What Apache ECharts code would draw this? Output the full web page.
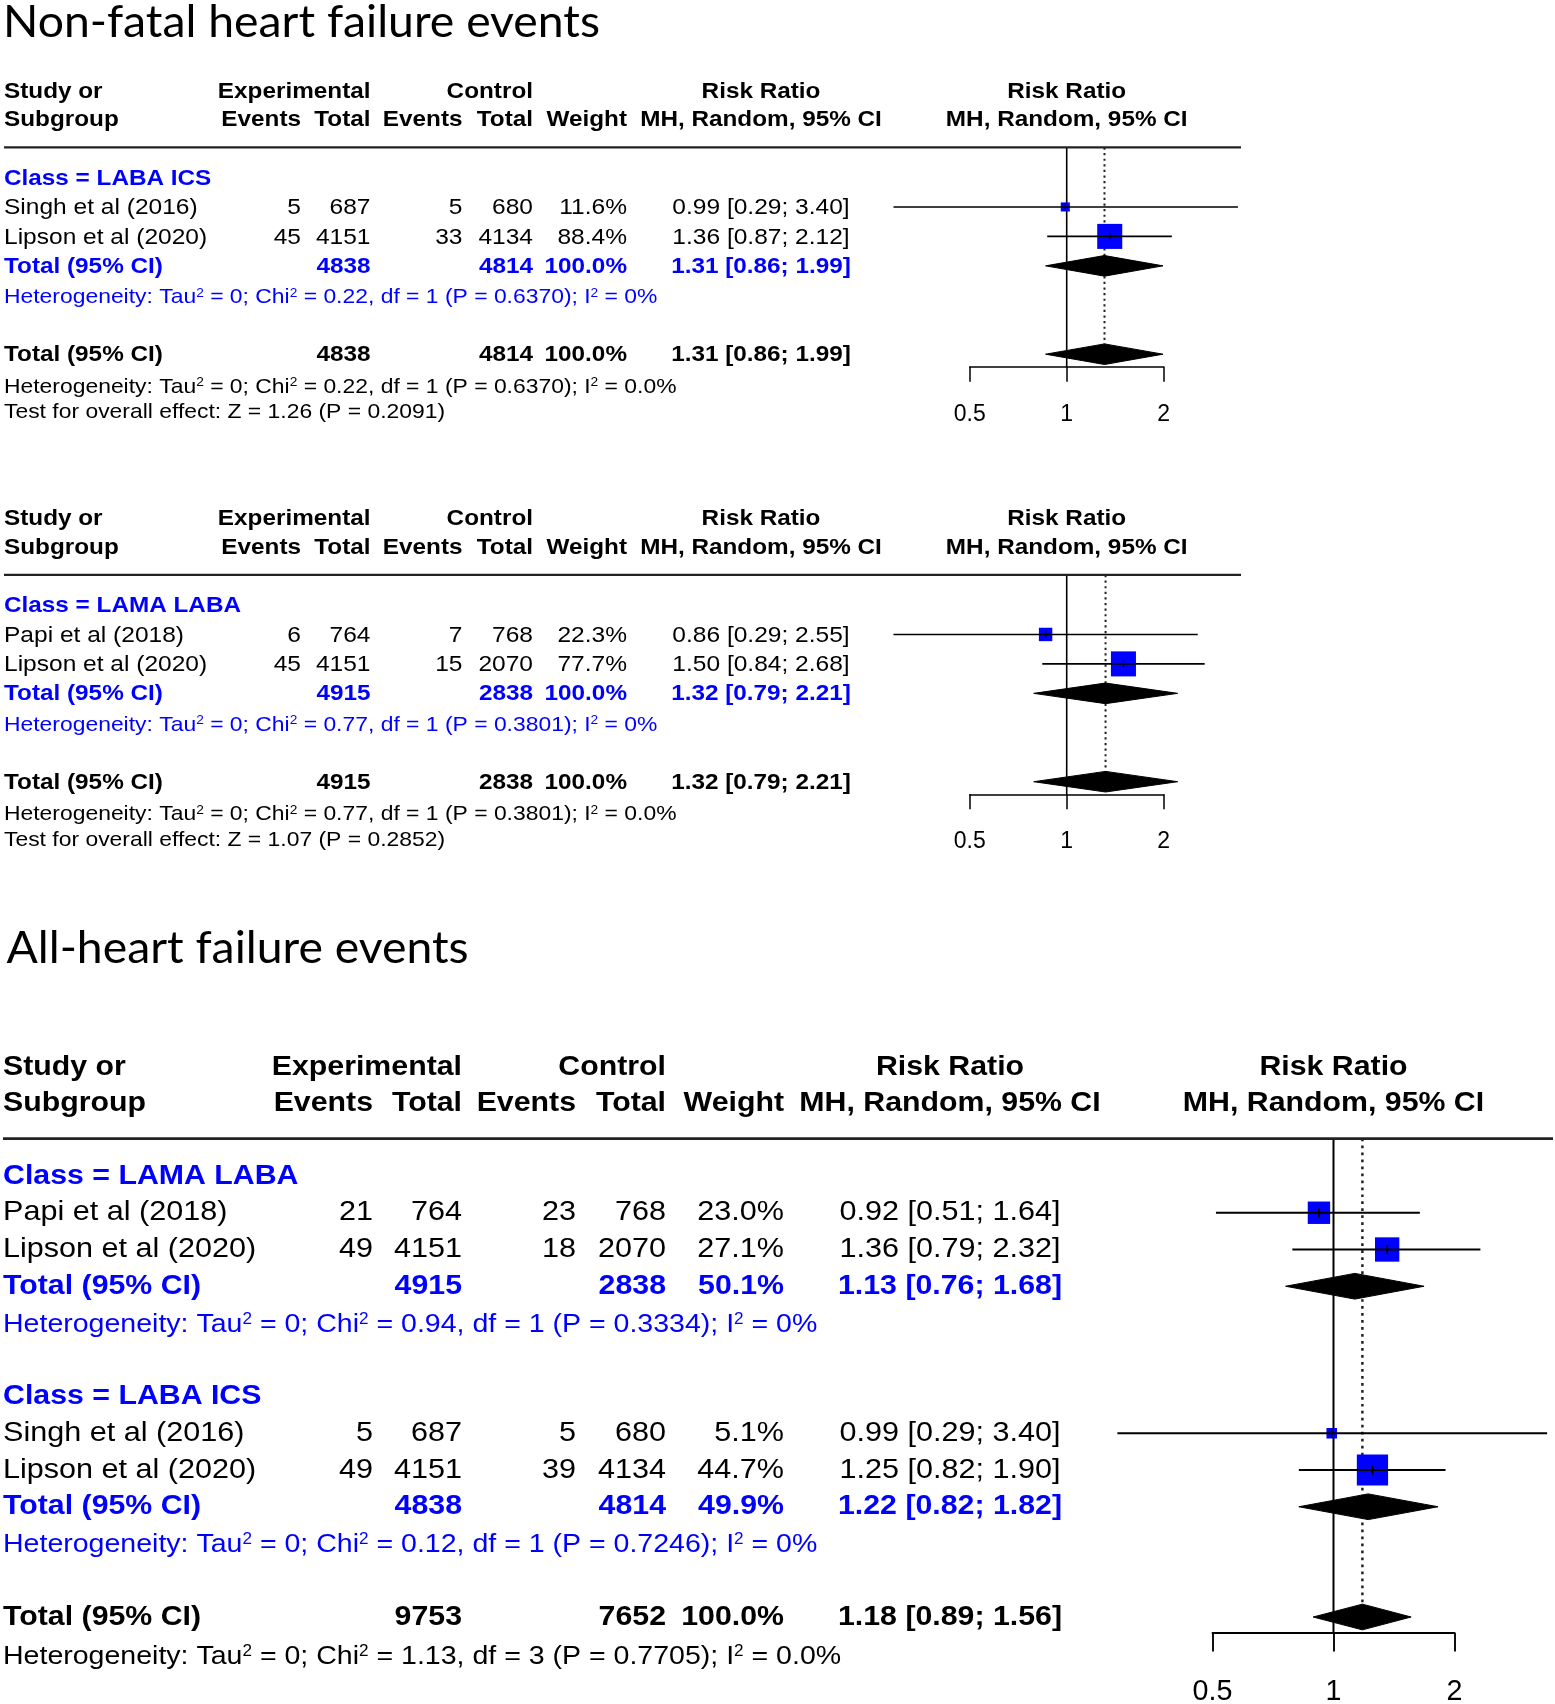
<!DOCTYPE html>
<html><head><meta charset="utf-8">
<script src="https://cdn.jsdelivr.net/npm/echarts@6/dist/echarts.min.js"></script>
<style>html,body{margin:0;padding:0;background:#fff}#main{width:1555px;height:1704px}</style>
</head><body><div id="main"></div>
<script>
// ================= DATA =================
const titles = ['Non-fatal heart failure events', 'All-heart failure events'];
const axisTicks = [0.5, 1, 2];

// --- Non-fatal HF, Class = LABA ICS ---
const nfIcsLabel   = 'Class = LABA ICS';
const nfIcsStudy   = ['Singh et al (2016)', 'Lipson et al (2020)'];
const nfIcsExpEvt  = [5, 45];
const nfIcsExpN    = [687, 4151];
const nfIcsCtlEvt  = [5, 33];
const nfIcsCtlN    = [680, 4134];
const nfIcsWeight  = [11.6, 88.4];
const nfIcsRR      = [0.99, 1.36];
const nfIcsLo      = [0.29, 0.87];
const nfIcsHi      = [3.40, 2.12];
const nfIcsTotal   = [4838, 4814, 100.0, 1.31, 0.86, 1.99]; // expN, ctlN, weight, RR, lower, upper
const nfIcsHet     = 'Heterogeneity: Tau² = 0; Chi² = 0.22, df = 1 (P = 0.6370); I² = 0%';
const nfIcsOverall = [4838, 4814, 100.0, 1.31, 0.86, 1.99];
const nfIcsOvHet   = 'Heterogeneity: Tau² = 0; Chi² = 0.22, df = 1 (P = 0.6370); I² = 0.0%';
const nfIcsTest    = 'Test for overall effect: Z = 1.26 (P = 0.2091)';

// --- Non-fatal HF, Class = LAMA LABA ---
const nfLamaLabel   = 'Class = LAMA LABA';
const nfLamaStudy   = ['Papi et al (2018)', 'Lipson et al (2020)'];
const nfLamaExpEvt  = [6, 45];
const nfLamaExpN    = [764, 4151];
const nfLamaCtlEvt  = [7, 15];
const nfLamaCtlN    = [768, 2070];
const nfLamaWeight  = [22.3, 77.7];
const nfLamaRR      = [0.86, 1.50];
const nfLamaLo      = [0.29, 0.84];
const nfLamaHi      = [2.55, 2.68];
const nfLamaTotal   = [4915, 2838, 100.0, 1.32, 0.79, 2.21];
const nfLamaHet     = 'Heterogeneity: Tau² = 0; Chi² = 0.77, df = 1 (P = 0.3801); I² = 0%';
const nfLamaOverall = [4915, 2838, 100.0, 1.32, 0.79, 2.21];
const nfLamaOvHet   = 'Heterogeneity: Tau² = 0; Chi² = 0.77, df = 1 (P = 0.3801); I² = 0.0%';
const nfLamaTest    = 'Test for overall effect: Z = 1.07 (P = 0.2852)';

// --- All HF, Class = LAMA LABA ---
const allLamaLabel  = 'Class = LAMA LABA';
const allLamaStudy  = ['Papi et al (2018)', 'Lipson et al (2020)'];
const allLamaExpEvt = [21, 49];
const allLamaExpN   = [764, 4151];
const allLamaCtlEvt = [23, 18];
const allLamaCtlN   = [768, 2070];
const allLamaWeight = [23.0, 27.1];
const allLamaRR     = [0.92, 1.36];
const allLamaLo     = [0.51, 0.79];
const allLamaHi     = [1.64, 2.32];
const allLamaTotal  = [4915, 2838, 50.1, 1.13, 0.76, 1.68];
const allLamaHet    = 'Heterogeneity: Tau² = 0; Chi² = 0.94, df = 1 (P = 0.3334); I² = 0%';

// --- All HF, Class = LABA ICS ---
const allIcsLabel  = 'Class = LABA ICS';
const allIcsStudy  = ['Singh et al (2016)', 'Lipson et al (2020)'];
const allIcsExpEvt = [5, 49];
const allIcsExpN   = [687, 4151];
const allIcsCtlEvt = [5, 39];
const allIcsCtlN   = [680, 4134];
const allIcsWeight = [5.1, 44.7];
const allIcsRR     = [0.99, 1.25];
const allIcsLo     = [0.29, 0.82];
const allIcsHi     = [3.40, 1.90];
const allIcsTotal  = [4838, 4814, 49.9, 1.22, 0.82, 1.82];
const allIcsHet    = 'Heterogeneity: Tau² = 0; Chi² = 0.12, df = 1 (P = 0.7246); I² = 0%';

// --- All HF overall ---
const allOverall = [9753, 7652, 100.0, 1.18, 0.89, 1.56];
const allOvHet   = 'Heterogeneity: Tau² = 0; Chi² = 1.13, df = 3 (P = 0.7705); I² = 0.0%';

// ================= BUILD =================
function grp(label, study, expEvt, expN, ctlEvt, ctlN, weight, rr, lo, hi, total, het) {
  return {label, study, expEvt, expN, ctlEvt, ctlN, weight, rr, lo, hi, total, het};
}
const panels = [
  {groups:[grp(nfIcsLabel, nfIcsStudy, nfIcsExpEvt, nfIcsExpN, nfIcsCtlEvt, nfIcsCtlN, nfIcsWeight, nfIcsRR, nfIcsLo, nfIcsHi, nfIcsTotal, nfIcsHet)],
   overall:nfIcsOverall, overallHet:nfIcsOvHet, test:nfIcsTest},
  {groups:[grp(nfLamaLabel, nfLamaStudy, nfLamaExpEvt, nfLamaExpN, nfLamaCtlEvt, nfLamaCtlN, nfLamaWeight, nfLamaRR, nfLamaLo, nfLamaHi, nfLamaTotal, nfLamaHet)],
   overall:nfLamaOverall, overallHet:nfLamaOvHet, test:nfLamaTest},
  {groups:[grp(allLamaLabel, allLamaStudy, allLamaExpEvt, allLamaExpN, allLamaCtlEvt, allLamaCtlN, allLamaWeight, allLamaRR, allLamaLo, allLamaHi, allLamaTotal, allLamaHet),
           grp(allIcsLabel, allIcsStudy, allIcsExpEvt, allIcsExpN, allIcsCtlEvt, allIcsCtlN, allIcsWeight, allIcsRR, allIcsLo, allIcsHi, allIcsTotal, allIcsHet)],
   overall:allOverall, overallHet:allOvHet, test:null}
];

// layout (pixels) per panel
const W = 1555;
const layouts = [
  {s:1,     row0:177.5, rowH:29.45, tdy:1, xStudy:4, cols:[301,370.5,462.5,533,627,761], x1:1066.7, dbl:97,  rule:[4,1241]},
  {s:1,     row0:605,   rowH:29.45, tdy:1, xStudy:4, cols:[301,370.5,462.5,533,627,761], x1:1066.7, dbl:97,  rule:[4,1241]},
  {s:1.247, row0:1176,  rowH:36.75, tdy:0, xStudy:3, cols:[373,462,576,666,784,950],     x1:1333.5, dbl:121, rule:[3,1553]}
];
const BLUE = '#0000ff';
const FONT = '"Liberation Sans", Arial, Helvetica, sans-serif';
const FS = {reg:22.5, bold:22.3, het:21, tick:23};
const SX = 1.09;

const fmtW = w => w.toFixed(1) + '%';
const fmtCI = (r, l, h) => r.toFixed(2) + ' [' + l.toFixed(2) + '; ' + h.toFixed(2) + ']';

function buildRows(p) {
  const rows = [{kind:'head1', row:-2.95}, {kind:'head2', row:-1.98}, {kind:'rule', row:-1.02}];
  const studies = [], diamonds = [];
  let r = 0;
  p.groups.forEach(g => {
    rows.push({kind:'class', row:r, text:g.label}); r++;
    g.study.forEach((name, i) => {
      rows.push({kind:'study', row:r, name, cells:[g.expEvt[i], g.expN[i], g.ctlEvt[i], g.ctlN[i], fmtW(g.weight[i]), fmtCI(g.rr[i], g.lo[i], g.hi[i])]});
      studies.push([g.rr[i], r, g.lo[i], g.hi[i], g.weight[i]]);
      r++;
    });
    const t = g.total;
    rows.push({kind:'total', row:r, color:BLUE, cells:['', t[0], '', t[1], fmtW(t[2]), fmtCI(t[3], t[4], t[5])]});
    diamonds.push([t[3], r, t[4], t[5]]);
    r++;
    rows.push({kind:'het', row:r + 0.04, color:BLUE, text:g.het}); r++;
    r++;
  });
  const o = p.overall;
  rows.push({kind:'total', row:r, color:'#000', cells:['', o[0], '', o[1], fmtW(o[2]), fmtCI(o[3], o[4], o[5])]});
  diamonds.push([o[3], r, o[4], o[5]]);
  rows.push({kind:'het', row:r + 1.07, color:'#000', text:p.overallHet});
  if (p.test) rows.push({kind:'test', row:r + 1.95, color:'#000', text:p.test});
  const wmax = Math.max.apply(null, studies.map(d => d[4]));
  return {rows, studies, diamonds, overallRow:r, overallRR:o[3], wmax};
}
const models = panels.map(buildRows);

function T(x, y, text, L, o) {
  o = o || {};
  const fs = (o.size || FS.reg) * L.s;
  const fill = o.color || '#000';
  let str = String(text);
  const style = {fill, fontFamily:FONT, fontSize:fs, fontWeight:o.bold ? 'bold' : 'normal',
    align:o.align || 'left', verticalAlign:'middle'};
  if (str.indexOf('²') >= 0) {
    str = str.replace(/²/g, '{s|2}');
    style.rich = {s:{fontFamily:FONT, fontSize:fs * 0.6, fill, verticalAlign:'top', lineHeight:fs * 0.6}};
  }
  style.text = str;
  return {type:'text', x, y:y + L.tdy, scaleX:SX, silent:true, style};
}

function tableRender(m, L) {
  return function (params, api) {
    const it = m.rows[params.dataIndex];
    const y = api.coord([0, it.row])[1];
    const X = v => api.coord([v, it.row])[0];
    const c = L.cols;
    const B = {bold:true, size:FS.bold};
    const kids = [];
    if (it.kind === 'head1') {
      kids.push(T(X(L.xStudy), y, 'Study or', L, B));
      kids.push(T(X(c[1]), y, 'Experimental', L, {bold:true, size:FS.bold, align:'right'}));
      kids.push(T(X(c[3]), y, 'Control', L, {bold:true, size:FS.bold, align:'right'}));
      kids.push(T(X(c[5]), y, 'Risk Ratio', L, {bold:true, size:FS.bold, align:'center'}));
      kids.push(T(X(L.x1), y, 'Risk Ratio', L, {bold:true, size:FS.bold, align:'center'}));
    } else if (it.kind === 'head2') {
      kids.push(T(X(L.xStudy), y, 'Subgroup', L, B));
      ['Events', 'Total', 'Events', 'Total', 'Weight'].forEach((h, i) =>
        kids.push(T(X(c[i]), y, h, L, {bold:true, size:FS.bold, align:'right'})));
      kids.push(T(X(c[5]), y, 'MH, Random, 95% CI', L, {bold:true, size:FS.bold, align:'center'}));
      kids.push(T(X(L.x1), y, 'MH, Random, 95% CI', L, {bold:true, size:FS.bold, align:'center'}));
    } else if (it.kind === 'rule') {
      kids.push({type:'line', silent:true, shape:{x1:X(L.rule[0]), y1:y, x2:X(L.rule[1]), y2:y},
        style:{stroke:'#222', lineWidth:2.2 * L.s}});
    } else if (it.kind === 'class') {
      kids.push(T(X(L.xStudy), y, it.text, L, {bold:true, size:FS.bold, color:BLUE}));
    } else if (it.kind === 'study') {
      kids.push(T(X(L.xStudy), y, it.name, L));
      it.cells.forEach((v, i) => kids.push(T(X(c[i]), y, v, L, {align:i === 5 ? 'center' : 'right'})));
    } else if (it.kind === 'total') {
      kids.push(T(X(L.xStudy), y, 'Total (95% CI)', L, {bold:true, size:FS.bold, color:it.color}));
      it.cells.forEach((v, i) => { if (v !== '') kids.push(T(X(c[i]), y, v, L, {bold:true, size:FS.bold, color:it.color, align:i === 5 ? 'center' : 'right'})); });
    } else {
      kids.push(T(X(L.xStudy), y, it.text, L, {size:FS.het, color:it.color}));
    }
    return {type:'group', children:kids};
  };
}

const grid = [], xAxis = [], yAxis = [], series = [];
models.forEach((m, p) => {
  const L = layouts[p];
  const yMin = -3.6, yMax = m.overallRow + 0.43;
  const top = L.row0 + yMin * L.rowH, height = (yMax - yMin) * L.rowH;
  const gT = grid.length, gF = gT + 1;
  grid.push({left:0, top, width:W, height, containLabel:false, outerBoundsMode:'none'});
  grid.push({left:L.x1 - L.dbl, top, width:2 * L.dbl, height, containLabel:false, outerBoundsMode:'none'});
  xAxis.push({gridIndex:gT, type:'value', min:0, max:W, show:false});
  xAxis.push({gridIndex:gF, type:'log', logBase:2, min:axisTicks[0], max:axisTicks[axisTicks.length - 1], position:'bottom',
    axisLine:{show:true, onZero:false, lineStyle:{color:'#000', width:1.5 * L.s}},
    axisTick:{show:true, inside:false, length:15 * L.s, lineStyle:{color:'#000', width:1.5 * L.s}},
    minorTick:{show:false}, splitLine:{show:false},
    axisLabel:{show:true, color:'#000', fontFamily:FONT, fontSize:FS.tick * L.s, margin:36 * L.s,
      formatter:v => String(+(+v).toFixed(2))}});
  yAxis.push({gridIndex:gT, type:'value', min:yMin, max:yMax, inverse:true, show:false});
  yAxis.push({gridIndex:gF, type:'value', min:yMin, max:yMax, inverse:true, show:false});

  // reference lines: null effect (solid) and pooled estimate (dotted)
  series.push({type:'custom', xAxisIndex:gF, yAxisIndex:gF, clip:false, silent:true, z:1, animation:false,
    data:[[1, -1.02, yMax, 0], [m.overallRR, -1.02, m.overallRow, 1]],
    renderItem:(params, api) => {
      const a = api.coord([api.value(0), api.value(1)]);
      const b = api.coord([api.value(0), api.value(2)]);
      const dotted = api.value(3) === 1;
      return {type:'line', shape:{x1:a[0], y1:a[1], x2:b[0], y2:b[1]},
        style:{stroke:dotted ? '#222' : '#000', lineWidth:(dotted ? 2 : 1.6) * L.s,
          lineDash:dotted ? [2.2 * L.s, 3.4 * L.s] : null}};
    }});
  // table text
  series.push({type:'custom', xAxisIndex:gT, yAxisIndex:gT, clip:false, silent:true, z:2, animation:false,
    data:m.rows.map(r => [0, r.row]), renderItem:tableRender(m, L)});
  // pooled diamonds
  series.push({type:'custom', xAxisIndex:gF, yAxisIndex:gF, clip:false, silent:true, z:3, animation:false,
    data:m.diamonds,
    renderItem:(params, api) => {
      const row = api.value(1);
      const c = api.coord([api.value(0), row]);
      const a = api.coord([api.value(2), row]);
      const b = api.coord([api.value(3), row]);
      const hh = 0.35 * L.rowH;
      return {type:'polygon', shape:{points:[[a[0], c[1]], [c[0], c[1] - hh], [b[0], c[1]], [c[0], c[1] + hh]]},
        style:{fill:'#000', stroke:'#000', lineWidth:1}};
    }});
  // study squares + CI
  series.push({type:'custom', xAxisIndex:gF, yAxisIndex:gF, clip:false, silent:true, z:4, animation:false,
    data:m.studies,
    renderItem:(params, api) => {
      const row = api.value(1);
      const c = api.coord([api.value(0), row]);
      const a = api.coord([api.value(2), row]);
      const b = api.coord([api.value(3), row]);
      const side = 0.85 * L.rowH * Math.sqrt(api.value(4) / m.wmax);
      const tk = 0.13 * L.rowH;
      return {type:'group', children:[
        {type:'rect', shape:{x:c[0] - side / 2, y:c[1] - side / 2, width:side, height:side}, style:{fill:BLUE}},
        {type:'line', shape:{x1:a[0], y1:c[1], x2:b[0], y2:c[1]}, style:{stroke:'#000', lineWidth:1.6 * L.s}},
        {type:'line', shape:{x1:c[0], y1:c[1] - tk, x2:c[0], y2:c[1] + tk}, style:{stroke:'#000', lineWidth:1.4 * L.s}}
      ]};
    }});
});

// titles (Calibri-like look with Lato, width-fitted)
const TITLE_FS = 45;
const mctx = document.createElement('canvas').getContext('2d');
mctx.font = TITLE_FS + 'px Lato';
const tScale = 597 / mctx.measureText(titles[0]).width;
const graphic = [
  {type:'text', x:3, y:22, scaleX:tScale, silent:true,
   style:{text:titles[0], fontFamily:'Lato', fontSize:TITLE_FS, fill:'#000', verticalAlign:'middle'}},
  {type:'text', x:6.5, y:948, scaleX:tScale, silent:true,
   style:{text:titles[1], fontFamily:'Lato', fontSize:TITLE_FS, fill:'#000', verticalAlign:'middle'}}
];

const chart = echarts.init(document.getElementById('main'), null, {renderer:'canvas'});
chart.setOption({backgroundColor:'#fff', animation:false, grid, xAxis, yAxis, series, graphic});
</script>
</body></html>
